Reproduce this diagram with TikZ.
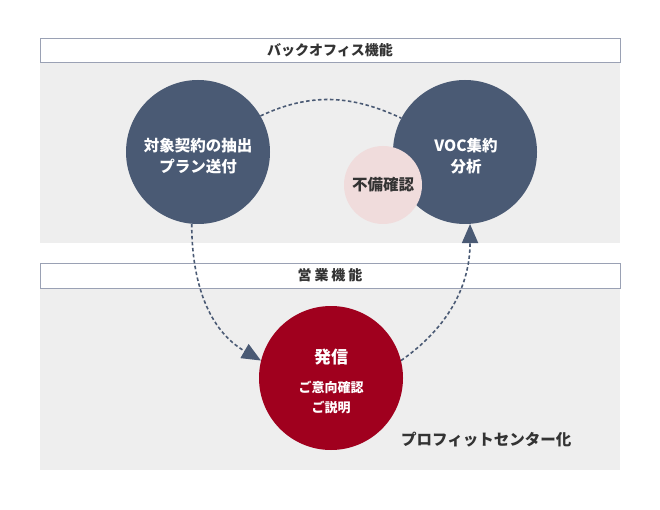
\documentclass[tikz,border=0pt]{standalone}
\usepackage{fontspec}
\setmainfont{Noto Sans CJK JP}
\usetikzlibrary{arrows.meta}
\definecolor{navy}{HTML}{4A5A74}
\definecolor{wine}{HTML}{A0001E}
\definecolor{blush}{HTML}{F0DCDC}
\definecolor{panel}{HTML}{EEEEEE}
\definecolor{rule}{HTML}{9AA1B4}
\definecolor{ink}{HTML}{333333}
\tikzset{
  headbox/.style={draw=rule, line width=0.8pt, fill=white, minimum width=580pt, minimum height=24pt, inner sep=0pt, font=\fontsize{14}{16}\selectfont\bfseries, text=ink},
  bigcircle/.style={circle, minimum size=144pt, inner sep=0pt},
  circtext/.style={text=white, align=center, font=\fontsize{15.5}{21}\selectfont\bfseries},
  smallcircle/.style={circle, fill=blush, minimum size=78pt, inner sep=0pt, text=ink, font=\fontsize{15.5}{17}\selectfont\bfseries},
  flow/.style={navy, line width=1.6pt, dash pattern=on 3.5pt off 2.5pt},
  tip/.style={-{Triangle[length=19pt,width=16pt]}}
}
\begin{document}
\begin{tikzpicture}[x=1pt,y=-1pt]
\useasboundingbox (0,0) rectangle (660,510);
% panels
\fill[panel] (40,62) rectangle (620,243);
\fill[panel] (40,288) rectangle (620,470);
\node[headbox] (h1) at (330,50) {バックオフィス機能};
\node[headbox, minimum height=25pt] (h2) at (330,275.5) {営\hspace{3pt}業\hspace{3pt}機\hspace{3pt}能};
% circle outlines for anchors
\node[bigcircle] (L) at (198,152) {};
\node[bigcircle] (R) at (465,152) {};
\draw[flow] (L.30) to[out=25,in=155] (R.152);
\node[bigcircle, fill=navy] at (L) {};
\node[bigcircle, fill=navy] at (R) {};
\node[circtext] (Lt) at (198,156) {対象契約の抽出\\プラン送付};
\node[circtext] (Rt) at (466,156) {VOC集約\\分析};
\node[smallcircle] (P) at (383,185) {不備確認};
\node[bigcircle, fill=wine] (S) at (331,378) {};
\node[text=white, font=\fontsize{17}{20}\selectfont\bfseries] (S1) at (331,357) {発信};
\node[text=white, align=center, font=\fontsize{13}{20}\selectfont\bfseries] (S2) at (331,397) {ご意向確認\\ご説明};
\draw[flow, tip] (L.265) to[out=-90,in=150] (S.166);
\draw[flow, tip] (S.14) to[out=35,in=-90] (R.274);
\node[font=\fontsize{15.5}{17}\selectfont\bfseries, text=ink, anchor=west, inner sep=0pt] (pc) at (401,440) {プロフィットセンター化};
\end{tikzpicture}
\end{document}
